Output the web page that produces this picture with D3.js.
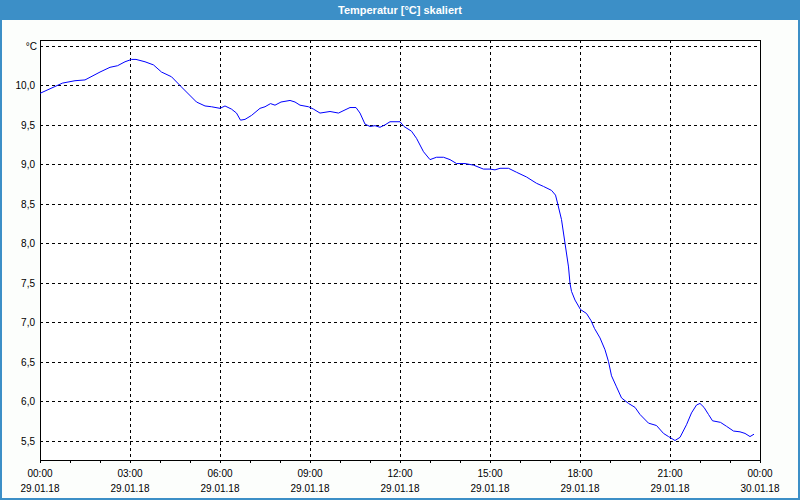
<!DOCTYPE html>
<html>
<head>
<meta charset="utf-8">
<script src="https://cdn.jsdelivr.net/npm/d3@7"></script>
<style>
  html, body { margin: 0; padding: 0; background: #fcfefc; }
  svg { display: block; }
  text { font-family: "Liberation Sans", Arial, sans-serif; }
</style>
</head>
<body>
<svg id="chart" width="800" height="500"></svg>
<script>
const title = "Temperatur [°C] skaliert";
const unitLabel = "°C";
const day = "2018-01-29";
const times = ["00:00","00:45","01:10","01:30","02:00","02:20","02:35","02:50","03:03","03:12",
  "03:30","03:47","04:03","04:23","04:43","05:13","05:30","05:43","06:00","06:10",
  "06:23","06:33","06:41","06:50","07:03","07:20","07:30","07:41","07:50","08:02",
  "08:20","08:30","08:40","08:57","09:07","09:20","09:40","09:57","10:10","10:20",
  "10:32","10:40","10:50","11:00","11:10","11:20","11:30","11:40","12:00","12:08",
  "12:23","12:33","12:47","13:00","13:13","13:27","13:40","13:53","14:10","14:27",
  "14:47","15:00","15:10","15:20","15:37","15:53","16:13","16:33","16:47","17:03",
  "17:11","17:15","17:23","17:30","17:37","17:40","17:43","17:50","18:01","18:13",
  "18:22","18:29","18:40","18:50","18:57","19:03","19:13","19:23","19:37","19:50",
  "20:00","20:17","20:33","20:47","20:57","21:10","21:20","21:33","21:43","21:53",
  "22:00","22:08","22:17","22:25","22:41","22:53","23:07","23:20","23:30","23:40","23:48"];
const temps = [9.90,10.03,10.06,10.07,10.17,10.23,10.25,10.30,10.33,10.33,
  10.30,10.26,10.17,10.11,9.98,9.79,9.74,9.73,9.71,9.74,
  9.70,9.65,9.56,9.57,9.62,9.71,9.73,9.77,9.75,9.79,
  9.81,9.79,9.75,9.73,9.70,9.65,9.67,9.65,9.69,9.72,
  9.72,9.65,9.51,9.48,9.49,9.47,9.50,9.54,9.54,9.48,
  9.42,9.33,9.16,9.06,9.09,9.09,9.06,9.01,9.01,8.99,
  8.94,8.94,8.93,8.95,8.95,8.90,8.84,8.76,8.72,8.67,
  8.61,8.51,8.30,8.00,7.70,7.49,7.39,7.28,7.16,7.11,
  7.02,6.92,6.80,6.65,6.50,6.32,6.18,6.04,5.97,5.92,
  5.83,5.72,5.69,5.59,5.55,5.50,5.54,5.70,5.85,5.95,
  5.97,5.92,5.83,5.75,5.73,5.68,5.62,5.61,5.59,5.55,5.58];
const yTicks = [5.5, 6.0, 6.5, 7.0, 7.5, 8.0, 8.5, 9.0, 9.5, 10.0, 10.5];
const yDomain = [5.253, 10.576];
const xStart = "2018-01-29 00:00", xEnd = "2018-01-30 00:00";

const parse = d3.timeParse("%Y-%m-%d %H:%M");
const data = times.map((t, i) => ({ t: parse(day + " " + t), v: temps[i] }));

const W = 800, H = 500;
const L = 40, R = 760, T = 40, B = 460;
const svg = d3.select("#chart");

// window background / borders
svg.append("rect").attr("x", 0).attr("y", 0).attr("width", W).attr("height", H).attr("fill", "#fcfefc");
svg.append("rect").attr("x", 0).attr("y", 0).attr("width", W).attr("height", 20).attr("fill", "#3c8fc7");
svg.append("rect").attr("x", 0).attr("y", 0).attr("width", 2).attr("height", H).attr("fill", "#3c8fc7");
svg.append("rect").attr("x", W - 2).attr("y", 0).attr("width", 2).attr("height", H).attr("fill", "#3c8fc7");
svg.append("rect").attr("x", 0).attr("y", H - 2).attr("width", W).attr("height", 2).attr("fill", "#3c8fc7");
svg.append("text").attr("x", W / 2).attr("y", 14).attr("text-anchor", "middle")
  .attr("fill", "#ffffff").attr("font-weight", "bold").attr("font-size", 11).text(title);

const x = d3.scaleTime().domain([parse(xStart), parse(xEnd)]).range([L, R]);
const y = d3.scaleLinear().domain(yDomain).range([B, T]);

svg.append("rect").attr("x", L).attr("y", T).attr("width", R - L).attr("height", B - T).attr("fill", "#ffffff");

const grid = svg.append("g").attr("stroke", "#000").attr("stroke-width", 1)
  .attr("stroke-dasharray", "3,3").attr("shape-rendering", "crispEdges");
yTicks.forEach(v => {
  const yy = Math.round(y(v)) + 0.5;
  grid.append("line").attr("x1", L).attr("x2", R).attr("y1", yy).attr("y2", yy);
});
const hourTicks = x.ticks(d3.timeHour.every(1));
const majorTicks = x.ticks(d3.timeHour.every(3));
majorTicks.filter(d => +d !== +x.domain()[0] && +d !== +x.domain()[1]).forEach(d => {
  const xx = Math.round(x(d)) + 0.5;
  grid.append("line").attr("x1", xx).attr("x2", xx).attr("y1", T).attr("y2", B);
});

// frame
svg.append("rect").attr("x", L + 0.5).attr("y", T + 0.5).attr("width", R - L).attr("height", B - T)
  .attr("fill", "none").attr("stroke", "#000").attr("shape-rendering", "crispEdges");

// x ticks
const tk = svg.append("g").attr("stroke", "#000").attr("shape-rendering", "crispEdges");
hourTicks.forEach(d => {
  const xx = Math.round(x(d)) + 0.5;
  tk.append("line").attr("x1", xx).attr("x2", xx).attr("y1", B).attr("y2", B + 3);
});

// y labels
const fmtY = d3.format(".1f");
yTicks.forEach(v => {
  svg.append("text").attr("x", v === 10.5 ? 37 : 35).attr("y", Math.round(y(v)) + 4)
    .attr("text-anchor", "end").attr("font-size", 10).attr("fill", "#000")
    .text(v === 10.5 ? unitLabel : fmtY(v).replace(".", ","));
});

// x labels
const fmtT = d3.timeFormat("%H:%M"), fmtD = d3.timeFormat("%d.%m.%y");
majorTicks.forEach(d => {
  const g = svg.append("g").attr("font-size", 10).attr("fill", "#000").attr("text-anchor", "middle");
  g.append("text").attr("x", x(d)).attr("y", 477).text(fmtT(d));
  g.append("text").attr("x", x(d)).attr("y", 492).text(fmtD(d));
});

// line
svg.append("path").datum(data)
  .attr("fill", "none").attr("stroke", "#0000ff").attr("stroke-width", 1)
  .attr("d", d3.line().x(d => x(d.t)).y(d => y(d.v)));
</script>
</body>
</html>
